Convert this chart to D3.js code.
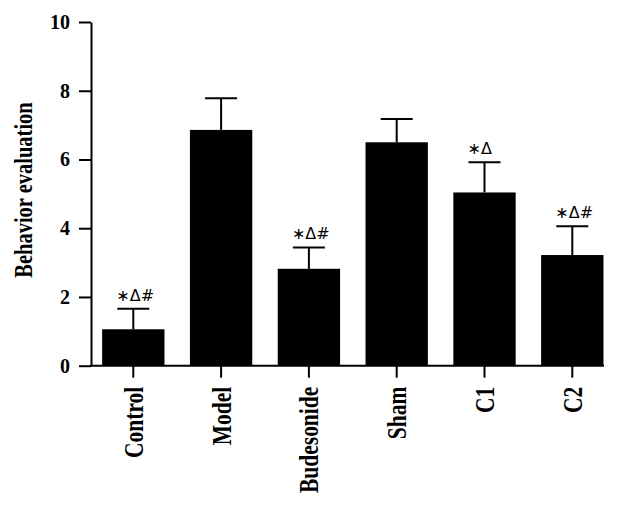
<!DOCTYPE html>
<html>
<head>
<meta charset="utf-8">
<script src="https://cdn.jsdelivr.net/npm/d3@7"></script>
<style>
	body { margin: 0; background: #fff; }
	.axis path, .axis line { stroke: #000; stroke-width: 2px; }
	.axis text { font-family: "Liberation Serif", serif; font-weight: bold; fill: #000; }
</style>
</head>
<body>
<div id="chart"></div>
<script>
//Data
var groups = ["Control", "Model", "Budesonide", "Sham", "C1", "C2"];
var means = [1.06, 6.86, 2.82, 6.50, 5.04, 3.22];
var errors = [0.60, 0.92, 0.62, 0.68, 0.88, 0.84];
var marks = ["\u2217\u0394#", "", "\u2217\u0394#", "", "\u2217\u0394", "\u2217\u0394#"];
var yTicks = [0, 2, 4, 6, 8, 10];

var rows = groups.map(function(g, i) {
	return { group: g, mean: means[i], err: errors[i], mark: marks[i] };
});

//SVG setup
var width = 627;
var height = 508;
var axisLeftX = 91;
var axisRightX = 604;
var capHalf = 16;

var svg = d3.select('#chart')
	.append('svg')
	.attr('width', width)
	.attr('height', height);

//Scales
var x = d3.scaleBand()
	.domain(groups)
	.range([89.4, 616.2])
	.paddingInner(0.29)
	.paddingOuter(0.145);

var y = d3.scaleLinear()
	.domain([0, 10])
	.range([365.7, 22]);

//Bars
svg.selectAll(".bar")
	.data(rows)
	.enter()
	.append("rect")
	.attr("class", "bar")
	.attr("x", function(d) { return x(d.group); })
	.attr("y", function(d) { return y(d.mean); })
	.attr("width", x.bandwidth())
	.attr("height", function(d) { return y(0) - y(d.mean); })
	.attr("fill", "#000");

//Error bars (upper whisker only)
var err = svg.selectAll(".err")
	.data(rows)
	.enter()
	.append("g")
	.attr("class", "err")
	.attr("stroke", "#000")
	.attr("stroke-width", 2);

err.append("line")
	.attr("x1", function(d) { return x(d.group) + x.bandwidth() / 2; })
	.attr("x2", function(d) { return x(d.group) + x.bandwidth() / 2; })
	.attr("y1", function(d) { return y(d.mean); })
	.attr("y2", function(d) { return y(d.mean + d.err); });

err.append("line")
	.attr("x1", function(d) { return x(d.group) + x.bandwidth() / 2 - capHalf; })
	.attr("x2", function(d) { return x(d.group) + x.bandwidth() / 2 + capHalf; })
	.attr("y1", function(d) { return y(d.mean + d.err); })
	.attr("y2", function(d) { return y(d.mean + d.err); });

//Significance marks above the caps
svg.selectAll(".mark")
	.data(rows.filter(function(d) { return d.mark; }))
	.enter()
	.append("text")
	.attr("class", "mark")
	.attr("x", function(d) { return x(d.group) + x.bandwidth() / 2 - capHalf - 1; })
	.attr("y", function(d) { return y(d.mean + d.err) - 8; })
	.attr("font-family", "DejaVu Sans, sans-serif")
	.attr("font-size", 16)
	.attr("fill", "#000")
	.text(function(d) { return d.mark; });

//Add the y axis
svg.append("g")
	.attr("class", "y axis")
	.attr("transform", "translate(" + axisLeftX + ",0)")
	.call(d3.axisLeft(y).tickValues(yTicks).tickSize(12).tickSizeOuter(0).tickPadding(9))
	.selectAll("text")
	.style("font-size", "20px");

//Add the x axis
var xAxis = svg.append("g")
	.attr("class", "x axis")
	.attr("transform", "translate(0," + y(0) + ")")
	.call(d3.axisBottom(x).tickSize(12).tickSizeOuter(0));

xAxis.select(".domain")
	.attr("d", "M" + (axisLeftX - 1) + ",0H" + axisRightX);

xAxis.selectAll(".tick text")
	.style("font-size", "21.5px")
	.attr("x", 0)
	.attr("y", 0)
	.attr("dy", "0.35em")
	.attr("text-anchor", "end")
	.attr("transform", "translate(0,21) rotate(-90) scale(1,1.25)");

//Label for the y axis
svg.append("text")
	.attr("transform", "translate(23,190) rotate(-90) scale(1,1.25)")
	.attr("text-anchor", "middle")
	.attr("dy", "0.35em")
	.attr("font-family", "Liberation Serif, serif")
	.attr("font-weight", "bold")
	.attr("font-size", 20.5)
	.attr("fill", "#000")
	.text("Behavior evaluation");
</script>
</body>
</html>
